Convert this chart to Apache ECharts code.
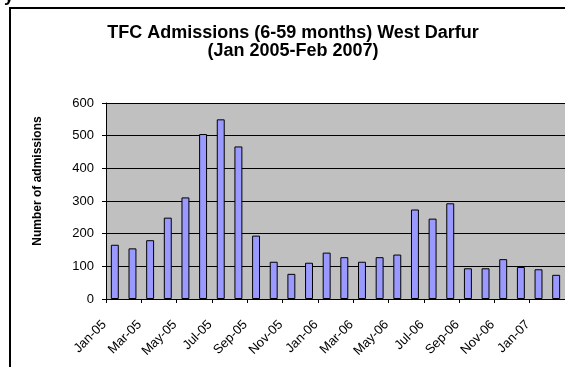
<!DOCTYPE html>
<html>
<head>
<meta charset="utf-8">
<script src="https://cdn.jsdelivr.net/npm/echarts@6/dist/echarts.min.js"></script>
<style>html,body{margin:0;padding:0;background:#fff;}#c{width:565px;height:367px;}</style>
</head>
<body>
<div id="c"></div>
<script>
const categories = ['Jan-05','Feb-05','Mar-05','Apr-05','May-05','Jun-05','Jul-05','Aug-05','Sep-05','Oct-05','Nov-05','Dec-05',
  'Jan-06','Feb-06','Mar-06','Apr-06','May-06','Jun-06','Jul-06','Aug-06','Sep-06','Oct-06','Nov-06','Dec-06',
  'Jan-07','Feb-07'];
const admissions = [166,155,180,249,311,505,550,467,194,114,77,111,
  142,128,114,128,136,274,246,293,94,94,122,98,
  91,74];
const yTicks = { min: 0, max: 600, interval: 100 };
const titleLines = ['TFC Admissions (6-59 months) West Darfur', '(Jan 2005-Feb 2007)'];
const yAxisName = 'Number of admissions';

const chart = echarts.init(document.getElementById('c'), null, { renderer: 'canvas' });
chart.setOption({
  animation: false,
  backgroundColor: '#ffffff',
  title: {
    text: titleLines.join('\n'),
    left: 293,
    textAlign: 'center',
    top: 24,
    padding: 0,
    textStyle: { fontFamily: 'Liberation Sans, Arial, sans-serif', fontWeight: 'bold', fontSize: 18, lineHeight: 18, color: '#000' }
  },
  graphic: [
    { type: 'rect', silent: true, shape: { x: 10, y: 8, width: 700, height: 500 }, style: { fill: 'none', stroke: '#000', lineWidth: 2 }, z: 100 },
    { type: 'text', silent: true, x: 4, y: 5, style: { text: 'y', fontFamily: 'Liberation Sans, Arial, sans-serif', fontWeight: 'bold', fontSize: 18, fill: '#000', verticalAlign: 'bottom' } },
    { type: 'text', silent: true, x: 38, y: 181, rotation: Math.PI / 2,
      style: { text: yAxisName, fontFamily: 'Liberation Sans, Arial, sans-serif', fontWeight: 'bold', fontSize: 12, fill: '#000', align: 'center', verticalAlign: 'middle' } }
  ],
  grid: { left: 106, right: 0, top: 103, bottom: 68, show: true, backgroundColor: '#C0C0C0', borderWidth: 0 },
  xAxis: {
    type: 'category',
    data: categories,
    boundaryGap: true,
    axisLine: { show: true, lineStyle: { color: '#000', width: 1 } },
    axisTick: { show: true, interval: 1, length: 4, lineStyle: { color: '#000' } },
    axisLabel: {
      interval: 1, rotate: 45, margin: 13, padding: [0, 15, 0, 0],
      fontFamily: 'Liberation Sans, Arial, sans-serif', fontSize: 13, color: '#000'
    },
    splitLine: { show: false }
  },
  yAxis: {
    type: 'value',
    min: yTicks.min, max: yTicks.max, interval: yTicks.interval,
    axisLine: { show: true, lineStyle: { color: '#000', width: 1 } },
    axisTick: { show: true, length: 4, lineStyle: { color: '#000' } },
    axisLabel: { margin: 12, fontFamily: 'Liberation Sans, Arial, sans-serif', fontSize: 13, color: '#000' },
    splitLine: { show: true, lineStyle: { color: '#000', width: 1 } }
  },
  series: [{
    type: 'bar',
    data: admissions,
    barCategoryGap: '55%',
    itemStyle: { color: '#9999FF', borderColor: '#000', borderWidth: 1 }
  }]
});
</script>
</body>
</html>
